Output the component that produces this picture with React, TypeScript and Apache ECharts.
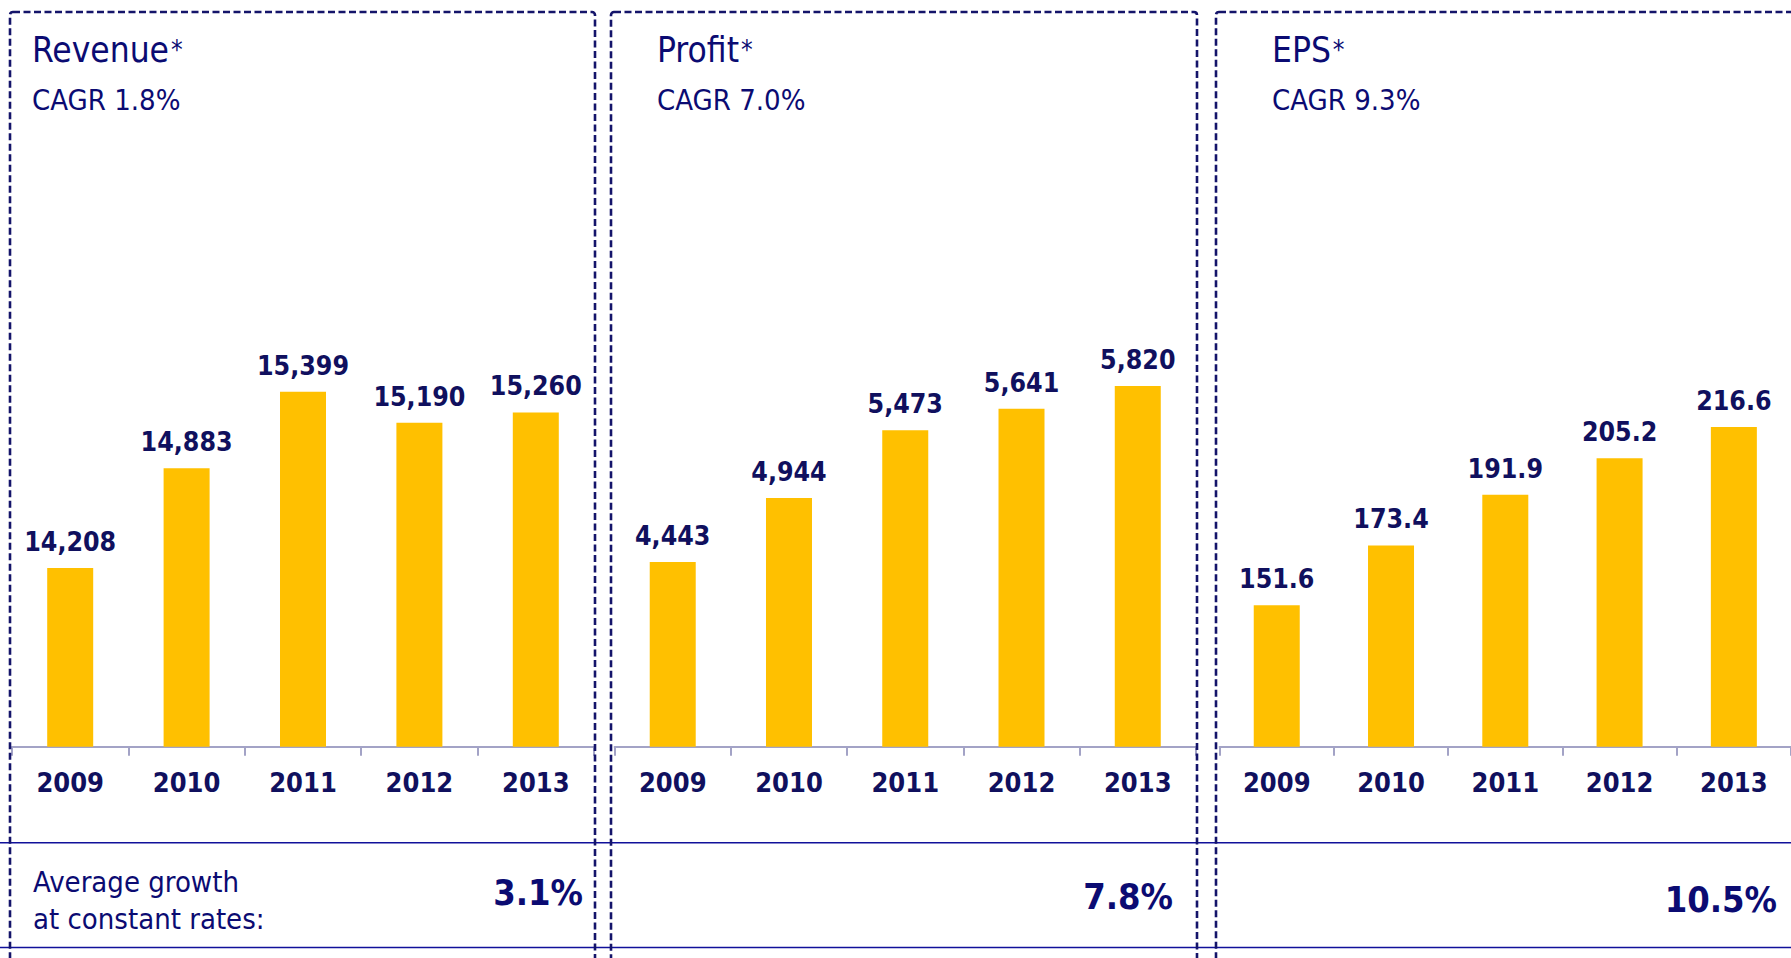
import React, { useEffect, useRef } from "react";
import * as echarts from "echarts";

// ---- data ----
const categories = ["2009", "2010", "2011", "2012", "2013"];
const revenue = [14208, 14883, 15399, 15190, 15260];
const profit = [4443, 4944, 5473, 5641, 5820];
const eps = [151.6, 173.4, 191.9, 205.2, 216.6];
const panelTitles = ["Revenue", "Profit", "EPS"];
const cagrTexts = ["CAGR 1.8%", "CAGR 7.0%", "CAGR 9.3%"];
const avgGrowthLabel = ["Average growth", "at constant rates:"];
const avgGrowth = ["3.1%", "7.8%", "10.5%"];
const axisMin = [13000, 3000, 100];
const axisMax = [17000, 7625, 315.8];

const FONT = "'DejaVu Sans Condensed', 'DejaVu Sans', sans-serif";
const NAVY = "#0b0b72";
const LABEL_NAVY = "#10105e";
const DASH = "#14146a";
const RULE = "#10109a";
const GOLD = "#FFC000";

const fmtThousands = (v: number) =>
  String(Math.round(v)).replace(/\B(?=(\d{3})+(?!\d))/g, ",");

export default function App() {
  const ref = useRef<HTMLDivElement>(null);
  useEffect(() => {
    if (!ref.current) return;
    const chart = echarts.init(ref.current, undefined, { renderer: "svg" });

    const gridLayout = [
      { left: 12, width: 582 },
      { left: 614.6, width: 581.3 },
      { left: 1219.6, width: 582 },
    ];
    const seriesData = [revenue, profit, eps];
    const formatters = [
      (p: any) => fmtThousands(p.value),
      (p: any) => fmtThousands(p.value),
      (p: any) => Number(p.value).toFixed(1),
    ];

    const grid = gridLayout.map((g) => ({
      left: g.left,
      width: g.width,
      top: 155,
      height: 591.7,
      containLabel: false,
    }));
    const xAxis = gridLayout.map((_, i) => ({
      type: "category",
      gridIndex: i,
      data: categories,
      boundaryGap: true,
      axisLine: { show: true, lineStyle: { color: "#a3a3c6", width: 2 } },
      axisTick: { show: true, length: 9, lineStyle: { color: "#a3a3c6", width: 2 } },
      axisLabel: {
        margin: 22,
        color: LABEL_NAVY,
        fontFamily: FONT,
        fontWeight: "bold",
        fontSize: 27,
      },
      splitLine: { show: false },
    }));
    const yAxis = gridLayout.map((_, i) => ({
      type: "value",
      gridIndex: i,
      min: axisMin[i],
      max: axisMax[i],
      show: false,
      splitLine: { show: false },
    }));
    const series = seriesData.map((d, i) => ({
      type: "bar",
      xAxisIndex: i,
      yAxisIndex: i,
      data: d,
      barWidth: 46,
      itemStyle: { color: GOLD },
      label: {
        show: true,
        position: "top",
        distance: 13,
        color: LABEL_NAVY,
        fontFamily: FONT,
        fontWeight: "bold",
        fontSize: 26.5,
        formatter: formatters[i],
      },
    }));

    const panelRects = [
      { x: 10, w: 585 },
      { x: 611, w: 586 },
      { x: 1216, w: 585 },
    ];
    const titleX = [32, 657, 1272];
    const pctRight = [583, 1173, 1777];
    const pctY = [892, 896, 899];

    const graphic: any[] = [];
    panelRects.forEach((r) => {
      graphic.push({
        type: "rect",
        shape: { x: r.x, y: 12, width: r.w, height: 1000, r: 3 },
        style: { fill: "none", stroke: DASH, lineWidth: 2.6, lineDash: [7, 3.5] },
        silent: true,
        z: 10,
      });
    });
    [842.7, 947.5].forEach((y) => {
      graphic.push({
        type: "line",
        shape: { x1: 0, y1: y, x2: 1791, y2: y },
        style: { stroke: RULE, lineWidth: 1.6 },
        silent: true,
        z: 9,
      });
    });
    panelTitles.forEach((t, i) => {
      graphic.push({
        type: "text",
        x: titleX[i],
        y: 50,
        style: {
          text: `{a|${t}}{b|*}`,
          verticalAlign: "middle",
          align: "left",
          fill: NAVY,
          rich: {
            a: { fontFamily: FONT, fontSize: 35, fill: NAVY, color: NAVY },
            b: {
              fontFamily: FONT,
              fontSize: 26,
              fill: NAVY,
              color: NAVY,
              padding: [0, 0, 0, 2],
            },
          },
        },
      });
      graphic.push({
        type: "text",
        x: titleX[i],
        y: 99.5,
        style: {
          text: cagrTexts[i],
          font: `29px ${FONT}`,
          fill: NAVY,
          verticalAlign: "middle",
          align: "left",
        },
      });
      graphic.push({
        type: "text",
        x: pctRight[i],
        y: pctY[i],
        style: {
          text: avgGrowth[i],
          font: `bold 36px ${FONT}`,
          fill: NAVY,
          verticalAlign: "middle",
          align: "right",
        },
      });
    });
    avgGrowthLabel.forEach((t, k) => {
      graphic.push({
        type: "text",
        x: 33,
        y: k === 0 ? 882 : 919,
        style: {
          text: t,
          font: `29px ${FONT}`,
          fill: NAVY,
          verticalAlign: "middle",
          align: "left",
        },
      });
    });

    chart.setOption({
      animation: false,
      backgroundColor: "#ffffff",
      grid,
      xAxis,
      yAxis,
      series,
      graphic,
    } as any);

    return () => chart.dispose();
  }, []);

  return (
    <div
      ref={ref}
      style={{ position: "fixed", left: 0, top: 0, width: 1791, height: 958, background: "#fff" }}
    />
  );
}
